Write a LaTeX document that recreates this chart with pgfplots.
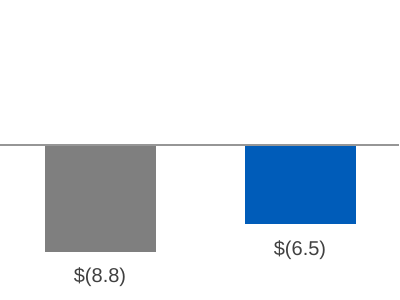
\documentclass[border=0pt]{standalone}
\usepackage{pgfplots}
\pgfplotsset{compat=1.18}
\usepackage{fontspec}
\setmainfont{Liberation Sans}
\definecolor{bargray}{HTML}{7F7F7F}
\definecolor{barblue}{HTML}{005CB9}
\definecolor{linegray}{HTML}{969696}
\definecolor{txt}{HTML}{404040}
\begin{document}
\begin{tikzpicture}
\begin{axis}[
  scale only axis, width=400pt, height=300pt,
  xmin=-0.5, xmax=1.5, ymin=-12.833, ymax=12.167,
  axis lines=none, ticks=none,
  barstyle/.style={ybar, bar width=0.555, bar shift=0pt, draw=none,
    point meta=explicit symbolic,
    nodes near coords={\pgfplotspointmeta},
    every node near coord/.append style={anchor=base, yshift=-31pt, font=\fontsize{20}{24}\selectfont, text=txt}},
]
\path (rel axis cs:0,0) rectangle (rel axis cs:1,1);
\addplot[barstyle, fill=bargray] coordinates {(0,-8.8) [\$(8.8)]};
\addplot[barstyle, fill=barblue] coordinates {(1,-6.5) [\$(6.5)]};
\addplot[sharp plot, draw=linegray, line width=2pt, mark=none] coordinates {(-0.5,0.08) (1.495,0.08)};
\end{axis}
\end{tikzpicture}
\end{document}
